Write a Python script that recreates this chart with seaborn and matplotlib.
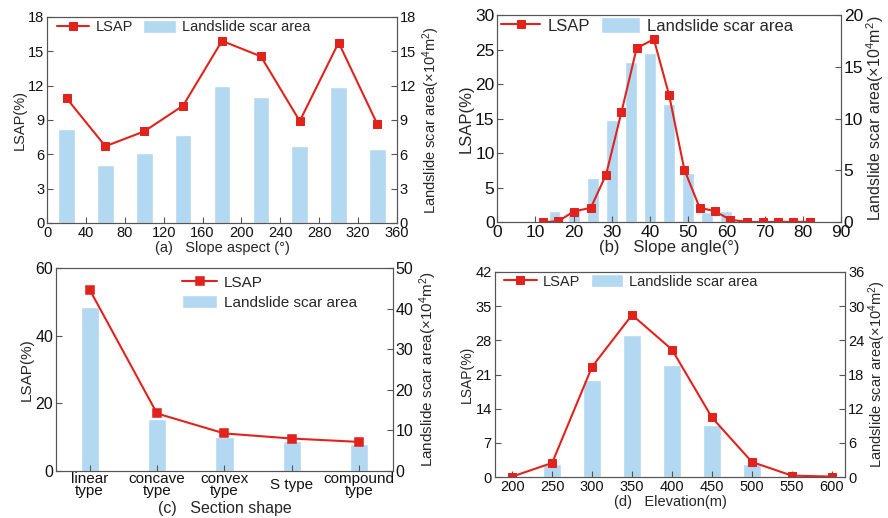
import numpy as np
import pandas as pd
import matplotlib
matplotlib.use("Agg")
import matplotlib.pyplot as plt
import seaborn as sns

# (a) slope aspect
aspect = [20, 60, 100, 140, 180, 220, 260, 300, 340]
aspect_lsap = [10.9, 6.7, 8.0, 10.25, 15.9, 14.55, 8.9, 15.75, 8.6]
aspect_area = [8.2, 5.05, 6.1, 7.7, 12.0, 11.0, 6.75, 11.9, 6.45]

# (b) slope angle
angle_pts = [12, 16, 20, 24.5, 28.5, 32.5, 36.5, 41, 45, 49, 53, 57, 61, 65.5, 69.5, 73.5, 77.5, 82]
angle_lsap = [0.0, 0.15, 1.55, 2.1, 6.9, 15.9, 25.2, 26.5, 18.4, 7.6, 2.1, 1.6, 0.35, 0.05, 0.0, 0.05, 0.05, 0.05]
angle_bins = [10, 15, 20, 25, 30, 35, 40, 45, 50, 55, 60]
angle_area = [0.15, 1.05, 1.4, 4.3, 9.9, 15.5, 16.35, 11.45, 4.75, 1.0, 1.05]

# (c) section shape
shapes = ["linear\ntype", "concave\ntype", "convex\ntype", "S type", "compound\ntype"]
shape_lsap = [53.6, 17.0, 11.1, 9.6, 8.6]
shape_area = [40.5, 12.9, 8.4, 7.3, 6.6]

# (d) elevation
elev = [200, 250, 300, 350, 400, 450, 500, 550, 600]
elev_lsap = [0.1, 2.9, 22.6, 33.2, 26.1, 12.2, 3.1, 0.3, 0.1]
elev_area = [0.15, 2.3, 17.0, 25.0, 19.7, 9.2, 2.3, 0.0, 0.0]

RED = "#e0241d"
BLUE = "#b3d8f1"
GREY = "#555555"
RLABEL = "Landslide scar area(×10$^4$m$^2$)"

sns.set_style("ticks")
plt.rcParams["font.family"] = ["Liberation Sans", "DejaVu Sans"]
plt.rcParams["mathtext.fontset"] = "custom"
plt.rcParams["mathtext.rm"] = "Liberation Sans"
plt.rcParams["mathtext.default"] = "regular"

fig = plt.figure(figsize=(8.88, 5.18), dpi=100)


def style(ax, tw, fs):
    for a in (ax, tw):
        for s in a.spines.values():
            s.set_color(GREY)
            s.set_linewidth(0.8)
        a.tick_params(direction="in", length=4, width=0.8, color=GREY,
                      labelsize=fs, labelcolor="#111111", pad=2)
    ax.set_zorder(tw.get_zorder() + 1)
    ax.patch.set_visible(False)


def legend(ax, tw, fs, anchor, ncol=2, hl=2.3, hh=1.0):
    ax.legend([ax.lines[0], tw.patches[0]], ["LSAP", "Landslide scar area"],
              loc="upper left", bbox_to_anchor=anchor, ncol=ncol, frameon=False,
              fontsize=fs, borderaxespad=0, borderpad=0, handlelength=hl,
              handleheight=hh, handletextpad=0.45, columnspacing=0.7,
              labelspacing=0.3)


def numeric_panel(rect, x, lsap, xb, area, width, fs):
    ax = fig.add_axes(rect)
    tw = ax.twinx()
    sns.barplot(x=xb, y=area, native_scale=True, width=width, color=BLUE,
                saturation=1, errorbar=None, ax=tw)
    sns.lineplot(x=x, y=lsap, ax=ax, color=RED, marker="s", markersize=6,
                 markeredgecolor=RED, linewidth=1.5, errorbar=None)
    style(ax, tw, fs)
    return ax, tw


# (a)
ax, tw = numeric_panel([0.053, 0.5695, 0.394, 0.398], aspect, aspect_lsap,
                       aspect, aspect_area, 0.425, 10.5)
ax.set_xlim(0, 360)
ax.set_xticks(np.arange(0, 361, 40))
ax.set_ylim(0, 18)
ax.set_yticks(np.arange(0, 19, 3))
tw.set_ylim(0, 18)
tw.set_yticks(np.arange(0, 19, 3))
ax.set_xlabel("(a)   Slope aspect (°)", fontsize=10.5, labelpad=1)
ax.set_ylabel("LSAP(%)", fontsize=10.5, labelpad=1)
tw.set_ylabel(RLABEL, fontsize=10.5, labelpad=3)
legend(ax, tw, 10.5, (0.029, 0.985), hl=2.2)

# (b)
ax, tw = numeric_panel([0.560, 0.571, 0.387, 0.40], angle_pts, angle_lsap,
                       angle_bins, angle_area, 0.62, 12.5)
ax.set_xlim(0, 90)
ax.set_xticks(np.arange(0, 91, 10))
ax.set_ylim(0, 30)
ax.set_yticks(np.arange(0, 31, 5))
tw.set_ylim(0, 20)
tw.set_yticks(np.arange(0, 21, 5))
ax.set_xlabel("(b)   Slope angle(°)", fontsize=12, labelpad=0)
ax.set_ylabel("LSAP(%)", fontsize=12, labelpad=1)
tw.set_ylabel(RLABEL, fontsize=11.5, labelpad=1)
legend(ax, tw, 12, (0.012, 0.99), hl=2.3, hh=1.1)

# (c)
ax = fig.add_axes([0.063, 0.0907, 0.3795, 0.392])
tw = ax.twinx()
sns.barplot(x=shapes, y=shape_area, width=0.27, color=BLUE, saturation=1,
            errorbar=None, ax=tw)
sns.pointplot(x=shapes, y=shape_lsap, ax=ax, color=RED, marker="s",
              markersize=6, linewidth=1.5, errorbar=None)
style(ax, tw, 11.5)
ax.set_xlim(-0.5, 4.5)
ax.set_ylim(0, 60)
ax.set_yticks(np.arange(0, 61, 20))
tw.set_ylim(0, 50)
tw.set_yticks(np.arange(0, 51, 10))
ax.tick_params(axis="x", labelsize=11, pad=10)
plt.setp(ax.get_xticklabels(), va="center", linespacing=0.8)
ax.set_xlabel("(c)   Section shape", fontsize=11.5, labelpad=2)
ax.set_ylabel("LSAP(%)", fontsize=11, labelpad=1)
tw.set_ylabel(RLABEL, fontsize=11, labelpad=3)
legend(ax, tw, 11, (0.374, 0.965), ncol=1, hl=2.3)

# (d)
ax, tw = numeric_panel([0.557, 0.079, 0.395, 0.396], elev, elev_lsap,
                       elev, elev_area, 0.44, 10.5)
ax.set_xlim(178, 617)
ax.set_xticks(np.arange(200, 601, 50))
ax.set_ylim(0, 42)
ax.set_yticks(np.arange(0, 43, 7))
tw.set_ylim(0, 36)
tw.set_yticks(np.arange(0, 37, 6))
ax.set_xlabel("(d)   Elevation(m)", fontsize=10.5, labelpad=1)
ax.set_ylabel("LSAP(%)", fontsize=10, labelpad=1)
tw.set_ylabel(RLABEL, fontsize=10.5, labelpad=1)
legend(ax, tw, 10.5, (0.028, 0.99), hl=2.2)

fig.savefig("out.png", dpi=100)
